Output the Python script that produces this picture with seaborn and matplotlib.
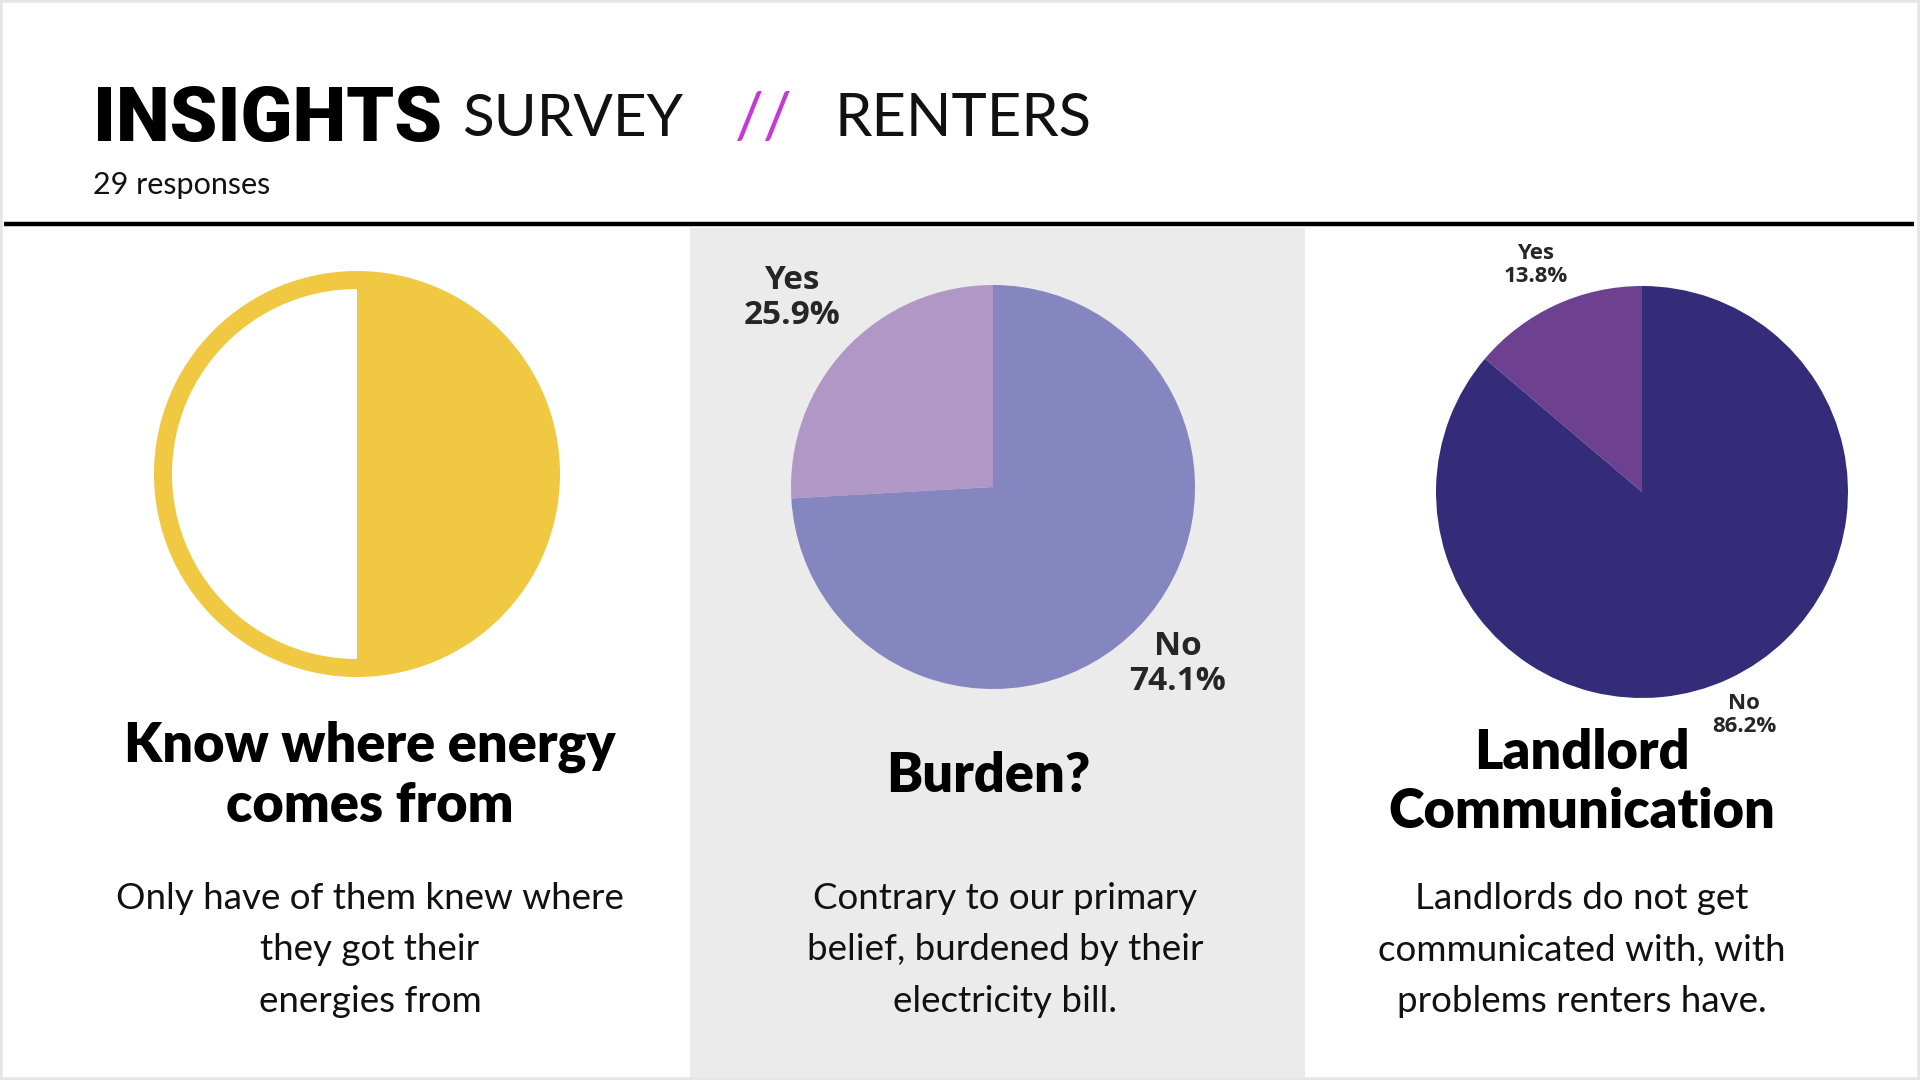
import matplotlib
matplotlib.use('Agg')
import matplotlib.pyplot as plt
import seaborn as sns
from matplotlib.patches import Rectangle

# Survey data (29 responses)
know_labels = ['Know', "Don't know"]
know_values = [50, 50]

burden_labels = ['Yes', 'No']
burden_values = [25.9, 74.1]

landlord_labels = ['Yes', 'No']
landlord_values = [13.8, 86.2]

headings = [['Know where energy', 'comes from'], ['Burden?'], ['Landlord', 'Communication']]
bodies = ['Only have of them knew where\nthey got their\nenergies from',
          'Contrary to our primary\nbelief, burdened by their\nelectricity bill.',
          'Landlords do not get\ncommunicated with, with\nproblems renters have.']

sns.set_theme(style='white')
plt.rcParams['font.family'] = ['Lato', 'DejaVu Sans']

W, H = 1920, 1080
fig = plt.figure(figsize=(19.2, 10.8), dpi=100)
ax = fig.add_axes([0, 0, 1, 1])

def Y(y):
    # pixel rows from the top -> data y
    return H - y

yellow = '#f1c841'
burden_colors = ['#b197c6', '#8585bf']
landlord_colors = ['#6d418f', '#342c79']

# background panel and header rule
ax.add_patch(Rectangle((690, 0), 615, Y(228), color='#ebebeb', lw=0, zorder=0))
ax.plot([4, 1914], [Y(224), Y(224)], color='black', lw=3.2, solid_capstyle='butt', zorder=1)
ax.add_patch(Rectangle((0, 0), W, H, fill=False, edgecolor='#e6e6e6', lw=4, zorder=5))

# header
ax.text(93, Y(141), 'INSIGHTS', fontsize=55, fontweight='heavy', family=['Roboto', 'DejaVu Sans'],
        ha='left', va='baseline', color='black')
ax.text(462, Y(136), 'SURVEY', fontsize=42, fontweight='normal', ha='left', va='baseline', color='#111111')
ax.text(735, Y(138), '//', fontsize=46, fontweight='normal', ha='left', va='baseline', color='#c43ad6')
ax.text(834, Y(136), 'RENTERS', fontsize=43, fontweight='normal', ha='left', va='baseline', color='#111111')
ax.text(93, Y(185), '29 responses', fontsize=22, ha='left', va='center', color='#111111')

# left: half-filled ring
cx, cy, r = 357, 474, 203
ax.pie([1], colors=[yellow], radius=r, center=(cx, Y(cy)), wedgeprops=dict(linewidth=0))
ax.pie(know_values, colors=[yellow, 'white'], radius=r - 18, center=(cx, Y(cy)),
       startangle=90, counterclock=False, wedgeprops=dict(linewidth=0))

# middle: burden
cx, cy, r = 993, 487, 202
ax.pie(burden_values, colors=burden_colors, radius=r, center=(cx, Y(cy)),
       startangle=90, counterclock=True, wedgeprops=dict(linewidth=0))
label_pos = [(792, 298), (1178, 664)]
for lab, val, (lx, ly) in zip(burden_labels, burden_values, label_pos):
    ax.text(lx, Y(ly), f'{lab}\n{val:.1f}%', fontsize=24, fontweight='bold',
            family=['Open Sans', 'DejaVu Sans'], ha='center', va='center', linespacing=1.1)

# right: landlord communication
cx, cy, r = 1642, 492, 206
ax.pie(landlord_values, colors=landlord_colors, radius=r, center=(cx, Y(cy)),
       startangle=90, counterclock=True, wedgeprops=dict(linewidth=0))
label_pos = [(1536, 265), (1744, 715)]
for lab, val, (lx, ly) in zip(landlord_labels, landlord_values, label_pos):
    ax.text(lx, Y(ly), f'{lab}\n{val:.1f}%', fontsize=16, fontweight='bold',
            family=['Open Sans', 'DejaVu Sans'], ha='center', va='center', linespacing=1.1)

# headings (one text per line) and descriptions
head_pos = [(370, 747), (988, 776), (1582, 753)]
line_gap = 59
body_x = [370, 1005, 1582]
for lines, (hx, hy) in zip(headings, head_pos):
    for i, line in enumerate(lines):
        ax.text(hx, Y(hy + i * line_gap), line, fontsize=39, fontweight='heavy',
                ha='center', va='center', color='black')
for txt, bx in zip(bodies, body_x):
    ax.text(bx, Y(950), txt, fontsize=26.5, fontweight='normal', ha='center', va='center',
            linespacing=1.7, color='#111111')

ax.set_xlim(0, W)
ax.set_ylim(0, H)
ax.set_aspect('auto')
ax.axis('off')

fig.savefig('out.png', dpi=100, facecolor='white')
